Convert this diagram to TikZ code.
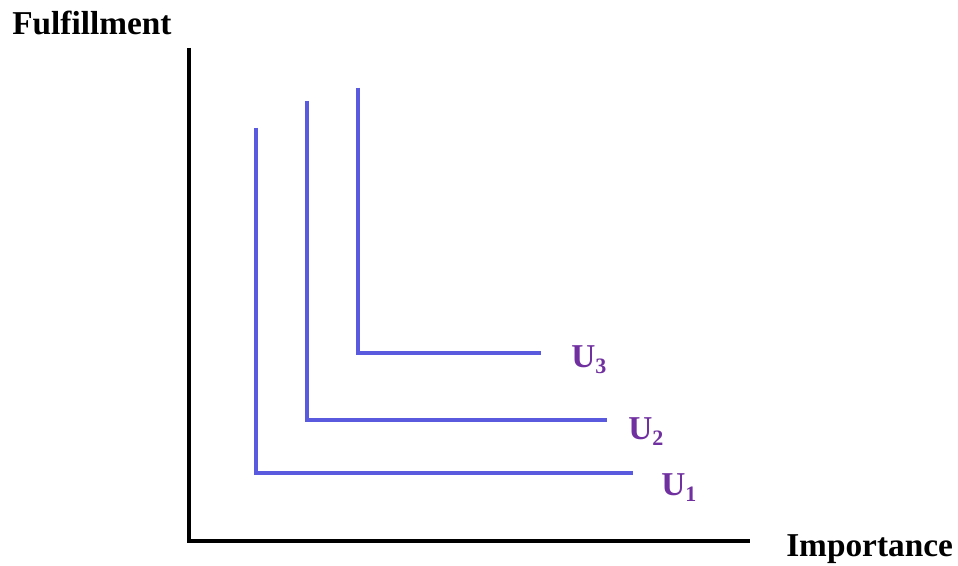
\documentclass[tikz,border=0pt]{standalone}
\usepackage{fontspec}
\setmainfont{Liberation Serif}
\definecolor{curveblue}{RGB}{90,90,222}
\definecolor{labpurple}{RGB}{112,48,160}
\begin{document}
\begin{tikzpicture}[x=0.75pt,y=-0.75pt,
  axis/.style={line width=3.4pt,black},
  curve/.style={line width=2.7pt,curveblue},
  axlabel/.style={anchor=base west,inner sep=0pt,font=\fontsize{25}{30}\selectfont\bfseries},
  ulabel/.style={anchor=base west,inner sep=0pt,text=labpurple,font=\fontsize{25}{30}\selectfont\bfseries}]
\useasboundingbox (0,0) rectangle (958,566);
% axes
\coordinate (ytop) at (189,48);
\coordinate (origin) at (189,541);
\coordinate (xend) at (750,541);
\draw[axis] (ytop) -- (origin) -- (xend);
% curves
\coordinate (a1) at (256,128); \coordinate (c1) at (256,473); \coordinate (b1) at (633,473);
\coordinate (a2) at (307,101); \coordinate (c2) at (307,420); \coordinate (b2) at (607,420);
\coordinate (a3) at (358,88);  \coordinate (c3) at (358,353); \coordinate (b3) at (541,353);
\draw[curve] (a1) -- (c1) -- (b1);
\draw[curve] (a2) -- (c2) -- (b2);
\draw[curve] (a3) -- (c3) -- (b3);
% labels
\node[axlabel] (ylab) at (12,35) {Fulfillment};
\node[axlabel] (xlab) at (786,557) {Importance};
\node[ulabel] (u3) at (571,368) {U\raisebox{-4pt}{\fontsize{16.5}{18}\selectfont 3}};
\node[ulabel] (u2) at (628,440) {U\raisebox{-4pt}{\fontsize{16.5}{18}\selectfont 2}};
\node[ulabel] (u1) at (661,496) {U\raisebox{-4pt}{\fontsize{16.5}{18}\selectfont 1}};
\end{tikzpicture}
\end{document}
